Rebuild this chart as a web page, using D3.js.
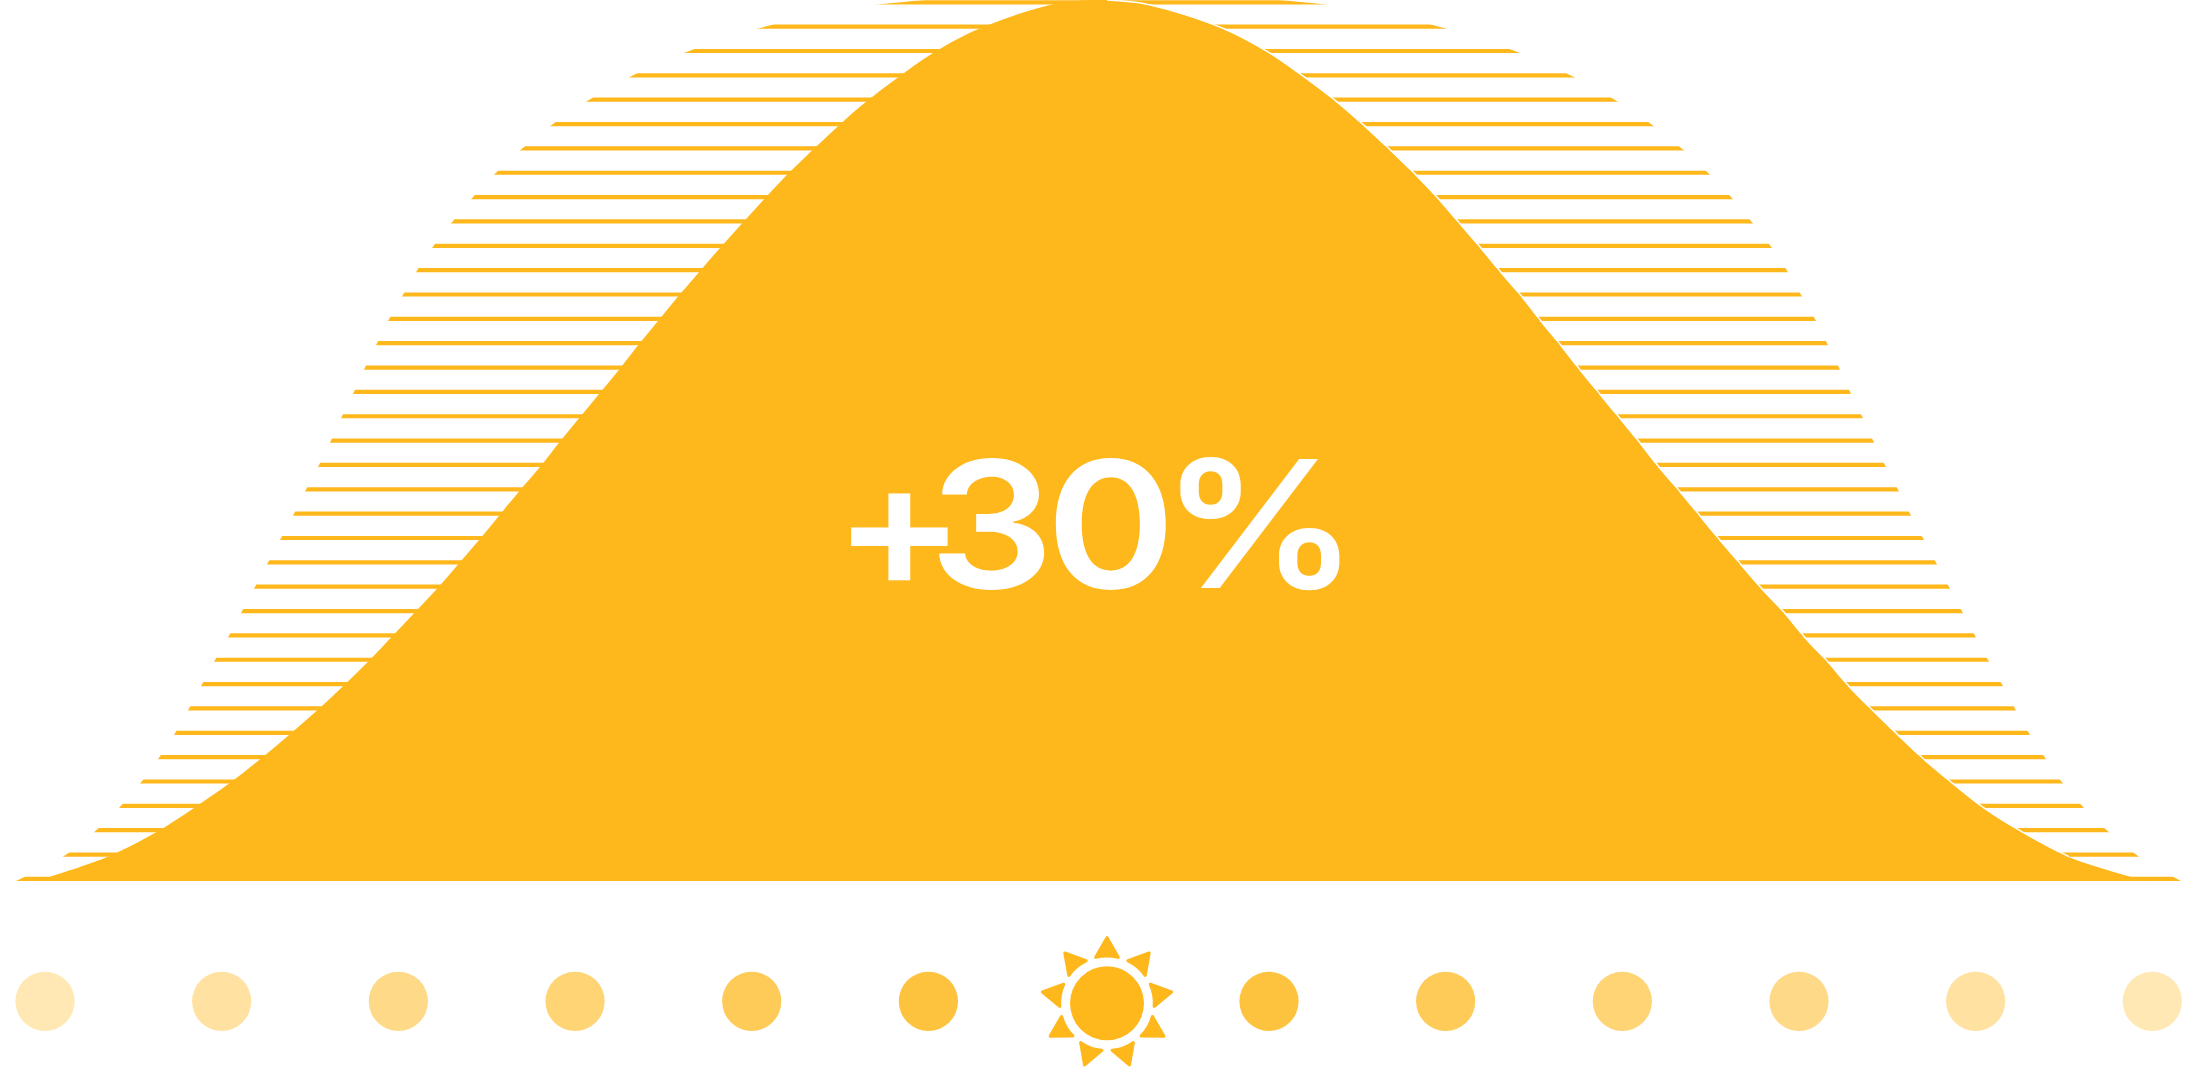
<!DOCTYPE html>
<html>
<head>
<meta charset="utf-8">
<script src="https://d3js.org/d3.v7.min.js"></script>
<style>
  html, body { margin: 0; padding: 0; background: #fff; overflow: hidden; }
  svg { display: block; }
</style>
</head>
<body>
<div id="chart"></div>
<script>
// row -0.18 is the very top of the curves, rows 0-36 are the stripes
var rowKeys = [-0.18].concat(d3.range(37));

var outerLeft = [925, 879, 757, 684, 629, 586, 550, 520, 494, 471, 451, 432, 416, 402, 388, 376, 364, 353, 341, 330, 318, 305, 293, 280, 267, 254, 241, 228, 214, 201, 188, 174, 158, 140, 119, 94, 63, 16];
var outerRight = [1279, 1325, 1447, 1520, 1575, 1618, 1654, 1684, 1710, 1733, 1753, 1772, 1788, 1802, 1816, 1828, 1840, 1851, 1863, 1874, 1886, 1899, 1911, 1924, 1937, 1950, 1963, 1976, 1989, 2003, 2016, 2030, 2046, 2063, 2084, 2109, 2139, 2181];
var humpLeft = [1090, 1052, 979, 933, 898, 866, 838, 812, 787, 764, 742, 720, 699, 678, 658, 638, 619, 599, 579, 559, 540, 519, 499, 479, 458, 437, 414, 391, 368, 343, 317, 289, 260, 229, 194, 156, 108, 36];
var humpRight = [1106, 1147, 1223, 1269, 1304, 1336, 1364, 1390, 1415, 1438, 1459, 1480, 1500, 1521, 1540, 1560, 1579, 1599, 1619, 1639, 1658, 1679, 1699, 1719, 1740, 1761, 1784, 1804, 1827, 1848, 1872, 1897, 1923, 1952, 1983, 2022, 2068, 2146];

// dots under the curve, slot 6 is where the sun sits
var dotSlots = [0, 1, 2, 3, 4, 5, 7, 8, 9, 10, 11, 12];
var dotLevels = [33, 41, 53, 61, 73, 85, 85, 73, 61, 53, 41, 33];
var sunRays = d3.range(9);

var label = "+30%";
var labelInkLeft = [851, 939, 1055, 1180];

var svgWidth = 2210;
var svgHeight = 1067;
var orange = "#feb81c";

var svg = d3.select("#chart")
  .append("svg")
  .attr("width", svgWidth)
  .attr("height", svgHeight);

var xScale = d3.scaleLinear().domain([0, 2210]).range([0, svgWidth]);
var rowScale = d3.scaleLinear().domain([0, 36]).range([4.4, 881]);
var stripeHeight = 4.2;

var slotScale = d3.scaleLinear()
  .domain([0, 5, 7, 12])
  .range([45, 928.4, 1269, 2152.3]);

var levelColor = d3.scaleLinear()
  .domain([0, 100])
  .range(["#ffffff", orange]);

// Stripes: the outer bell cut into thin rows
svg.append("clipPath")
  .attr("id", "stripes")
  .selectAll("rect")
  .data(d3.range(37))
  .enter()
  .append("rect")
  .attr("x", 0)
  .attr("width", svgWidth)
  .attr("y", d => rowScale(d) - stripeHeight)
  .attr("height", stripeHeight);

var bellArea = function(curve, left, right) {
  return d3.area()
    .curve(curve)
    .y(d => rowScale(d))
    .x0((d, i) => xScale(left[i]))
    .x1((d, i) => xScale(right[i]));
};

var humpCurve = d3.curveCatmullRom.alpha(0.5);

svg.append("path")
  .attr("d", bellArea(d3.curveMonotoneY, outerLeft, outerRight)(rowKeys))
  .attr("fill", orange)
  .attr("clip-path", "url(#stripes)");

svg.append("path")
  .attr("d", bellArea(humpCurve, humpLeft, humpRight)(rowKeys))
  .attr("fill", orange);

// thin white edge on the right side of the hump, stops above the last stripe
var rightEdge = d3.line()
  .curve(humpCurve)
  .y(d => rowScale(d))
  .x((d, i) => xScale(humpRight[i]) + 1);

svg.append("path")
  .attr("d", rightEdge(rowKeys.slice(0, -1)))
  .attr("fill", "none")
  .attr("stroke", "#fff")
  .attr("stroke-width", 1.5);

// Label: one text, stretched a bit so the glyphs get the width of the original face
var labelFont = "600 177px Inter";
var ctx = document.createElement("canvas").getContext("2d");
ctx.font = labelFont;
var zero = ctx.measureText("0");
var stretch = 111 / (zero.actualBoundingBoxLeft + zero.actualBoundingBoxRight);
var labelX = label.split("").map(function(ch, i) {
  return labelInkLeft[i] / stretch + ctx.measureText(ch).actualBoundingBoxLeft;
});

svg.append("text")
  .attr("transform", `scale(${stretch}, 1)`)
  .attr("x", labelX.join(" "))
  .attr("y", 588)
  .attr("font-family", "Inter")
  .attr("font-weight", 600)
  .attr("font-size", 177)
  .attr("fill", "#fff")
  .text(label);

// Dots
svg.selectAll(".dot")
  .data(dotSlots)
  .enter()
  .append("circle")
  .attr("class", "dot")
  .attr("cx", d => slotScale(d))
  .attr("cy", 1001.3)
  .attr("r", 29.6)
  .attr("fill", (d, i) => levelColor(dotLevels[i]));

// Sun icon
var sun = svg.append("g")
  .attr("transform", "translate(1107, 1003.3)");

sun.append("circle")
  .attr("r", 37)
  .attr("fill", orange);

var ray = d3.path();
ray.moveTo(0, -65.5);
ray.lineTo(11.2, -46);
ray.quadraticCurveTo(0, -49, -11.2, -46);
ray.closePath();

sun.selectAll(".ray")
  .data(sunRays)
  .enter()
  .append("path")
  .attr("class", "ray")
  .attr("d", ray.toString())
  .attr("transform", d => `rotate(${d * 40})`)
  .attr("fill", orange)
  .attr("stroke", orange)
  .attr("stroke-width", 3.2)
  .attr("stroke-linejoin", "round");
</script>
</body>
</html>
